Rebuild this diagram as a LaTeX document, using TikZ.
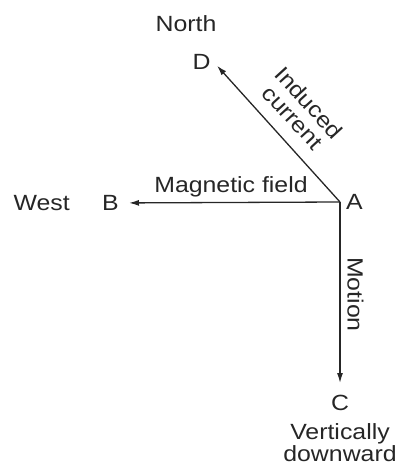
\documentclass[tikz,border=0pt]{standalone}
\usepackage{fontspec}
\setmainfont{Liberation Sans}[FakeStretch=1.13]
\usetikzlibrary{positioning,arrows.meta}

\begin{document}
\begin{tikzpicture}[
  x=1pt, y=1pt,
  node distance=6pt and 26pt,
  lbl/.style={font=\fontsize{22}{22}\selectfont, text=black!85, inner sep=3pt},
  arr/.style={-{Latex[length=10pt,width=6pt]}, line width=1.3pt, black!85}
]
  \useasboundingbox (0,0) rectangle (398,475);
  \coordinate (o) at (340,273);
  \node[lbl, right=3pt of o] (A) {A};
  \node[lbl] (B) at (110.5,272) {B};
  \node[lbl] (C) at (340,72) {C};
  \node[lbl] (D) at (201.5,413) {D};
  \node[lbl, left=of B] (west) {West};
  \node[lbl, below=of C, align=center] (down) {Vertically\\downward};
  \node[lbl] (north) at (186,451) {North};

  \draw[arr, shorten >=7pt] (o) -- (B) node[lbl, midway, above, yshift=2pt] (field) {Magnetic field};
  \draw[arr, shorten >=9pt] (o) -- (C);
  \draw[arr, shorten >=5pt] (o) -- (D.east);
  \node[lbl, rotate=-90] (motion) at (355.5,180.5) {Motion};
  \node[lbl, rotate=-47.6, align=center] (current) at (301,365) {Induced\\current};
\end{tikzpicture}
\end{document}
